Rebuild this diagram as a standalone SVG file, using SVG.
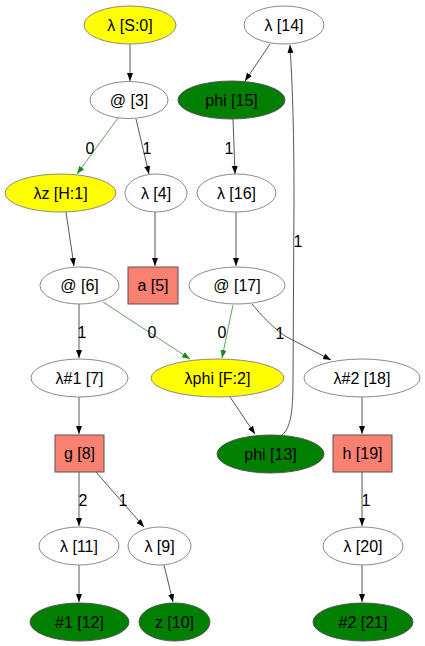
<svg xmlns="http://www.w3.org/2000/svg" width="425" height="646" viewBox="0 0 425 646">
<style>
text{font-family:"Liberation Sans",Arial,sans-serif;font-size:16px;fill:#000;text-anchor:middle}
.w{fill:#fff;stroke:#8a8a8a;stroke-width:1}
.y{fill:#ffff00;stroke:#8a8a8a;stroke-width:1}
.g{fill:#007f00;stroke:#555;stroke-width:1}
.r{fill:#fa8072;stroke:#555;stroke-width:1}
.e{fill:none;stroke:#444;stroke-width:0.9;marker-end:url(#ab)}
.eg{fill:none;stroke:#3a8a3a;stroke-width:0.8;marker-end:url(#ag)}
</style>
<defs>
<marker id="ab" markerUnits="userSpaceOnUse" markerWidth="9" markerHeight="7" refX="8" refY="3" orient="auto"><path d="M0,0 L8,3 L0,6 z" fill="#000"/></marker>
<marker id="ag" markerUnits="userSpaceOnUse" markerWidth="9" markerHeight="7" refX="8" refY="3" orient="auto"><path d="M0,0 L8,3 L0,6 z" fill="#1a8a1a"/></marker>
</defs>
<rect width="425" height="646" fill="#fff"/>
<g id="edges">
<path class="e" d="M130,44 L130,81"/>
<path class="eg" d="M118,118 L77,174"/><text x="90" y="154">0</text>
<path class="e" d="M136,119 L149,174"/><text x="147" y="154">1</text>
<path class="e" d="M270,44 L245,81"/>
<path class="e" d="M233,119 L235,174"/><text x="229" y="154">1</text>
<path class="e" d="M282,435 C291,428 293,410 293,380 L294,200 C294,120 292,80 290,45"/><text x="298" y="247">1</text>
<path class="e" d="M66,212 L74,266"/>
<path class="e" d="M155,212 L155,266"/>
<path class="e" d="M236,212 L236,266"/>
<path class="eg" d="M103,302 L190,359"/><text x="152" y="338">0</text>
<path class="e" d="M79,304 L79,358"/><text x="82" y="338">1</text>
<path class="eg" d="M233,305 L222,358"/><text x="222" y="338">0</text>
<path class="e" d="M252,304 C262,316 270,325 285,336 L331,360"/><text x="280" y="339">1</text>
<path class="e" d="M230,397 L255,434"/>
<path class="e" d="M362,397 L362,434"/>
<path class="e" d="M79,397 L79,434"/>
<path class="e" d="M79,472 L79,526"/><text x="83" y="506">2</text>
<path class="e" d="M96,472 L144,527"/><text x="123" y="506">1</text>
<path class="e" d="M362,472 L362,526"/><text x="366" y="506">1</text>
<path class="e" d="M79,565 L79,602"/>
<path class="e" d="M164,565 L173,602"/>
<path class="e" d="M362,565 L362,602"/>
</g>
<g id="n0"><ellipse class="y" cx="130" cy="25" rx="46" ry="19"/><text x="130" y="30.5">λ [S:0]</text></g>
<g id="n3"><ellipse class="w" cx="129" cy="100" rx="39" ry="18.5"/><text x="129" y="105.5">@ [3]</text></g>
<g id="n1"><ellipse class="y" cx="60.5" cy="193" rx="55.5" ry="19"/><text x="60.5" y="198.5">λz [H:1]</text></g>
<g id="n4"><ellipse class="w" cx="156" cy="193" rx="31" ry="19"/><text x="156" y="198.5">λ [4]</text></g>
<g id="n14"><ellipse class="w" cx="284" cy="25" rx="40" ry="19"/><text x="284" y="30.5">λ [14]</text></g>
<g id="n15"><ellipse class="g" cx="231.5" cy="100" rx="53.5" ry="19"/><text x="231.5" y="105.5">phi [15]</text></g>
<g id="n16"><ellipse class="w" cx="236.5" cy="193" rx="39.5" ry="19"/><text x="236.5" y="198.5">λ [16]</text></g>
<g id="n6"><ellipse class="w" cx="79.5" cy="285.5" rx="39.5" ry="18.5"/><text x="79.5" y="291">@ [6]</text></g>
<g id="n5"><rect class="r" x="128" y="267" width="50" height="37"/><text x="153" y="291">a [5]</text></g>
<g id="n17"><ellipse class="w" cx="237" cy="285.5" rx="48" ry="18.5"/><text x="237" y="291">@ [17]</text></g>
<g id="n7"><ellipse class="w" cx="79.5" cy="378" rx="48.5" ry="19"/><text x="79.5" y="383.5">λ#1 [7]</text></g>
<g id="n2"><ellipse class="y" cx="217.5" cy="378" rx="66.5" ry="19"/><text x="217.5" y="383.5">λphi [F:2]</text></g>
<g id="n18"><ellipse class="w" cx="362" cy="378" rx="58" ry="19"/><text x="362" y="383.5">λ#2 [18]</text></g>
<g id="n8"><rect class="r" x="55" y="435" width="49" height="37"/><text x="79.5" y="459">g [8]</text></g>
<g id="n13"><ellipse class="g" cx="270.5" cy="454" rx="53.5" ry="19"/><text x="270.5" y="459.5">phi [13]</text></g>
<g id="n19"><rect class="r" x="333" y="435" width="59" height="37"/><text x="362.5" y="459">h [19]</text></g>
<g id="n11"><ellipse class="w" cx="79" cy="546" rx="40" ry="19"/><text x="79" y="551.5">λ [11]</text></g>
<g id="n9"><ellipse class="w" cx="159.5" cy="546" rx="31.5" ry="19"/><text x="159.5" y="551.5">λ [9]</text></g>
<g id="n20"><ellipse class="w" cx="363" cy="546" rx="40" ry="19"/><text x="363" y="551.5">λ [20]</text></g>
<g id="n12"><ellipse class="g" cx="79.5" cy="622" rx="49.5" ry="19"/><text x="79.5" y="627.5">#1 [12]</text></g>
<g id="n10"><ellipse class="g" cx="174.5" cy="622" rx="35.5" ry="19"/><text x="174.5" y="627.5">z [10]</text></g>
<g id="n21"><ellipse class="g" cx="363" cy="622" rx="50" ry="19"/><text x="363" y="627.5">#2 [21]</text></g>
</svg>
